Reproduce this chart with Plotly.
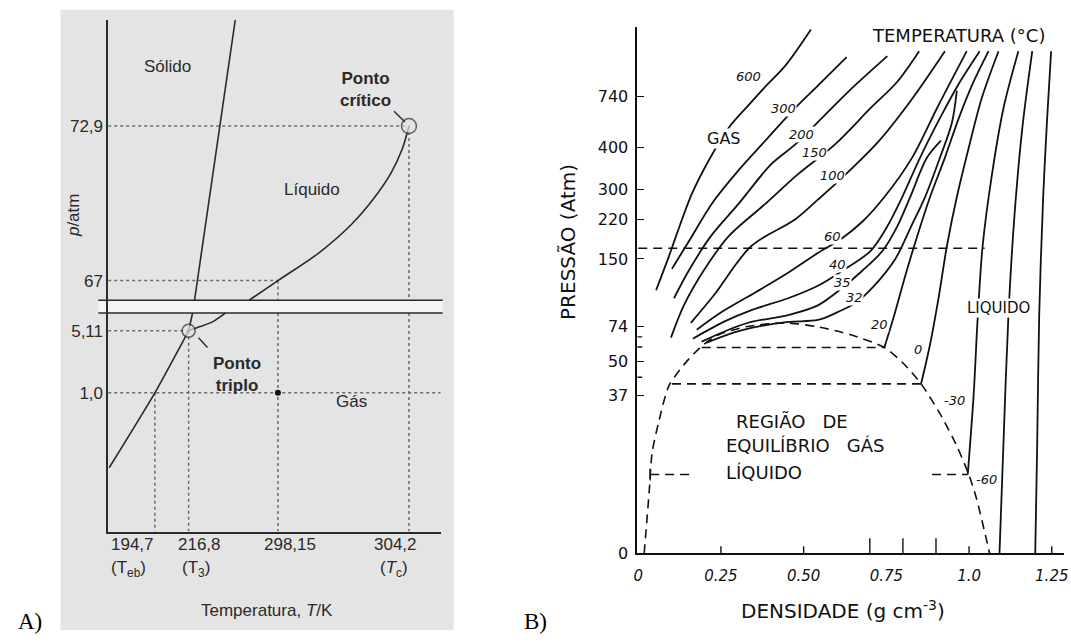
import numpy as np
import plotly.graph_objects as go

W, H = 1071, 644
INK_A = "#2a2a2a"
DOT_A = "#6a6a6a"
INK_B = "#111111"
PAPER_A = "#e4e4e4"
FONT_A = "Liberation Sans, Arial, sans-serif"
FONT_B = "DejaVu Sans, sans-serif"
FONT_TAG = "Liberation Serif, Times New Roman, serif"

# ---------------- Panel A: CO2 phase diagram (schematic, broken p axis) ----------------
# schematic temperature scale: K -> axis position
A_T_SCALE = [160.0, 194.7, 216.8, 298.15, 304.2, 305.7]
A_T_POS = [0, 47, 81, 171, 303, 335]
# schematic pressure scale (atm) with a break between 6.28 and 66.25 atm
A_P_SCALE = [0.0, 1.0, 5.11, 6.28, 66.25, 67.0, 72.9, 77.0]
A_P_POS = [0, 141, 204, 222, 235, 255, 412, 521]
A_BREAK_LO, A_BREAK_HI = 6.28, 66.25

A_P_TICKS = [1.0, 5.11, 67.0, 72.9]
A_P_LABELS = ["1,0", "5,11", "67", "72,9"]

T_SUBL, T_TRIPLE, T_ROOM, T_CRIT = 194.7, 216.8, 298.15, 304.2
P_ATM, P_TRIPLE, P_ROOM, P_CRIT = 1.0, 5.11, 67.0, 72.9

# coexistence lines
subl_T = [160.7, 194.7, 216.8]
subl_p = [0.46, 1.0, 5.11]
fus_lo_T = [216.8, 220.4]
fus_lo_p = [5.11, 6.28]
fus_hi_T = [222.2, 259.3]
fus_hi_p = [66.25, 76.96]
vap_lo_T = [216.8, 226.7, 238.5, 250.3]
vap_lo_p = [5.11, 5.37, 5.70, 6.28]
vap_hi_T = [271.9, 298.15, 300.03, 301.54, 302.60, 303.37, 303.88, 304.2]
vap_hi_p = [66.25, 67.0, 68.05, 69.14, 70.16, 71.10, 72.00, 72.9]


def a_x(T):
    return np.interp(T, A_T_SCALE, A_T_POS)


def a_y(p):
    return np.interp(p, A_P_SCALE, A_P_POS)


# ---------------- Panel B: CO2 isotherms, pressure vs density ----------------
B_P_SCALE = [0, 37, 50, 74, 150, 220, 300, 400, 740, 1200]
B_P_POS = [0, 160, 195, 230, 299, 339, 370, 412, 464, 535]
B_P_TICKS = [0, 37, 50, 74, 150, 220, 300, 400, 740]
B_P_MINOR = [44, 60, 67]
B_D_TICKS = [0, 0.25, 0.50, 0.75, 1.0, 1.25]
B_D_LABELS = ["0", "0.25", "0.50", "0.75", "1.0", "1.25"]
B_D_SHORT = [0.25, 0.50, 1.0, 1.25]
B_D_LONG = [0.7, 0.8, 0.9]

iso_600_d = [0.054, 0.093, 0.114, 0.162, 0.213, 0.273, 0.333, 0.387, 0.444, 0.522]
iso_600_p = [115, 155, 190, 287, 369, 531, 681, 811, 941, 1181]
iso_300_d = [0.102, 0.162, 0.222, 0.303, 0.384, 0.474, 0.543, 0.630]
iso_300_p = [139, 190, 261, 345, 446, 662, 811, 999]
iso_200_d = [0.108, 0.153, 0.219, 0.303, 0.402, 0.474, 0.564, 0.654, 0.753]
iso_200_p = [106, 137, 190, 261, 360, 420, 616, 811, 1006]
iso_150_d = [0.099, 0.138, 0.198, 0.273, 0.384, 0.483, 0.594, 0.702, 0.783, 0.849]
iso_150_p = [66.5, 98, 137, 190, 261, 336, 420, 662, 837, 1038]
iso_100_d = [0.159, 0.228, 0.342, 0.474, 0.543, 0.624, 0.723, 0.822, 0.927]
iso_100_p = [78.4, 109, 173, 220, 272, 333, 433, 707, 1038]
iso_60_d = [0.177, 0.252, 0.354, 0.453, 0.543, 0.612, 0.678, 0.744, 0.828, 0.903, 0.993]
iso_60_p = [72, 90.5, 112.5, 134.5, 160.5, 185, 216.5, 279, 376, 662, 1038]
iso_40_d = [0.165, 0.258, 0.342, 0.453, 0.543, 0.618, 0.702, 0.753, 0.798, 0.852, 0.912, 0.969, 1.032]
iso_40_p = [65.7, 79.5, 92.7, 106, 120, 137, 164, 208, 279, 376, 596, 824, 1038]
iso_35_d = [0.192, 0.273, 0.342, 0.453, 0.543, 0.618, 0.678, 0.738, 0.783, 0.822, 0.873, 0.915]
iso_35_p = [63.7, 72, 79.5, 87.2, 98, 118, 137, 164, 208, 279, 376, 446]
iso_32_d = [0.207, 0.288, 0.342, 0.453, 0.543, 0.603, 0.654, 0.708, 0.777, 0.825, 0.867, 0.912, 0.948, 0.963]
iso_32_p = [63, 69.9, 73.3, 79.5, 81.7, 90.5, 100, 118, 150, 208, 279, 376, 564, 779]
iso_20_d = [0.744, 0.774, 0.807, 0.843, 0.882, 0.927, 0.969, 1.011, 1.059]
iso_20_p = [59.6, 87.2, 131, 190, 279, 376, 596, 824, 1038]
iso_0_d = [0.855, 0.882, 0.909, 0.933, 0.963, 0.999, 1.038, 1.089]
iso_0_p = [41.5, 61.7, 109, 173, 279, 400, 727, 1038]
iso_m30_d = [0.996, 1.014, 1.026, 1.041, 1.068, 1.104, 1.149]
iso_m30_p = [18.5, 37.7, 84, 173, 329, 662, 1038]
iso_m60_d = [1.092, 1.104, 1.119, 1.137, 1.161, 1.191]
iso_m60_p = [0, 25.9, 87.2, 228, 531, 1038]
iso_m90_d = [1.200, 1.206, 1.212, 1.224, 1.236, 1.248]
iso_m90_p = [0, 25.9, 87.2, 279, 596, 1038]

# saturation dome and tie lines
dome_d = [0.018, 0.033, 0.042, 0.063, 0.093, 0.144, 0.198, 0.243, 0.324, 0.444,
          0.543, 0.642, 0.744, 0.804, 0.855, 0.912, 0.963, 0.999, 1.023, 1.062]
dome_p = [0, 14.3, 23.6, 31.2, 40.8, 49.6, 61.7, 68.5, 74, 78.4,
          74, 68.5, 59.6, 48.9, 41.5, 32.8, 25.2, 18.5, 12.7, 0]
tie_20_d, tie_20_p = [0.192, 0.744], 59.6
tie_0_d, tie_0_p = [0.102, 0.855], 41.5
tie_m30_gas_d = [0.036, 0.159]
tie_m30_liq_d = [0.888, 0.996]
tie_m30_p = 18.5
ref_line_d, ref_line_p = [0.0, 1.047], 169


def b_y(p):
    return np.interp(p, B_P_SCALE, B_P_POS)


fig = go.Figure()


def line_a(T, p, color=INK_A, width=1.6, dash=None, smooth=0.6):
    fig.add_trace(go.Scatter(
        x=a_x(np.asarray(T, float)), y=a_y(np.asarray(p, float)), mode="lines",
        line=dict(color=color, width=width, dash=dash, shape="spline", smoothing=smooth),
        xaxis="x", yaxis="y", hoverinfo="skip", showlegend=False))


# dotted guide lines (split at the axis break)
line_a([A_T_SCALE[0], T_CRIT], [P_CRIT, P_CRIT], DOT_A, 1.5, "dot")
line_a([A_T_SCALE[0], T_ROOM], [P_ROOM, P_ROOM], DOT_A, 1.5, "dot")
line_a([A_T_SCALE[0], T_TRIPLE], [P_TRIPLE, P_TRIPLE], DOT_A, 1.5, "dot")
line_a([A_T_SCALE[0], A_T_SCALE[-1]], [P_ATM, P_ATM], DOT_A, 1.5, "dot")
line_a([T_SUBL, T_SUBL], [P_ATM, 0], DOT_A, 1.5, "dot")
line_a([T_TRIPLE, T_TRIPLE], [P_TRIPLE, 0], DOT_A, 1.5, "dot")
for t_v, p_top in [(T_ROOM, P_ROOM), (T_CRIT, P_CRIT)]:
    line_a([t_v, t_v], [p_top, A_BREAK_HI], DOT_A, 1.5, "dot")
    line_a([t_v, t_v], [A_BREAK_LO, 0], DOT_A, 1.5, "dot")

# phase boundaries
line_a(subl_T, subl_p)
line_a(fus_lo_T, fus_lo_p)
line_a(fus_hi_T, fus_hi_p)
line_a(vap_lo_T, vap_lo_p)
line_a(vap_hi_T, vap_hi_p, smooth=1.0)

fig.add_trace(go.Scatter(
    x=a_x([T_TRIPLE, T_CRIT]), y=a_y([P_TRIPLE, P_CRIT]), mode="markers",
    marker=dict(size=[13, 15], color=PAPER_A, line=dict(color=INK_A, width=1.5)),
    xaxis="x", yaxis="y", hoverinfo="skip", showlegend=False))
fig.add_trace(go.Scatter(
    x=a_x([T_ROOM]), y=a_y([P_ATM]), mode="markers",
    marker=dict(size=6, color="#111111"),
    xaxis="x", yaxis="y", hoverinfo="skip", showlegend=False))


def line_b(d, p, dash=None, width=1.8, smooth=0.9):
    fig.add_trace(go.Scatter(
        x=d, y=b_y(np.asarray(p, float)), mode="lines",
        line=dict(color=INK_B, width=width, dash=dash, shape="spline", smoothing=smooth),
        xaxis="x2", yaxis="y2", hoverinfo="skip", showlegend=False))


for d_arr, p_arr in [(iso_600_d, iso_600_p), (iso_300_d, iso_300_p), (iso_200_d, iso_200_p),
                     (iso_150_d, iso_150_p), (iso_100_d, iso_100_p), (iso_60_d, iso_60_p),
                     (iso_40_d, iso_40_p), (iso_35_d, iso_35_p), (iso_32_d, iso_32_p),
                     (iso_20_d, iso_20_p), (iso_0_d, iso_0_p), (iso_m30_d, iso_m30_p),
                     (iso_m60_d, iso_m60_p), (iso_m90_d, iso_m90_p)]:
    line_b(d_arr, p_arr)

DASH = "9px,6px"
line_b(dome_d, dome_p, DASH, 1.6, 0.7)
line_b(tie_20_d, [tie_20_p] * 2, DASH, 1.6)
line_b(tie_0_d, [tie_0_p] * 2, DASH, 1.6)
line_b(tie_m30_gas_d, [tie_m30_p] * 2, DASH, 1.6)
line_b(tie_m30_liq_d, [tie_m30_p] * 2, DASH, 1.6)
line_b(ref_line_d, [ref_line_p] * 2, DASH, 1.6)
line_b([tie_m30_gas_d[0]] * 2, [tie_m30_p - 1.4, tie_m30_p + 1.4], None, 1.4)

# ---------------- layout ----------------
shapes = [
    dict(type="rect", xref="paper", yref="paper", x0=57 / W, x1=453 / W,
         y0=1 - 640 / H, y1=1 - 10 / H, fillcolor=PAPER_A, line=dict(width=0), layer="below"),
    dict(type="rect", xref="paper", yref="y", x0=95 / W, x1=442 / W,
         y0=a_y(A_BREAK_LO), y1=a_y(A_BREAK_HI), fillcolor="#f4f4f4",
         line=dict(width=0), layer="below"),
]
for pb in (A_BREAK_LO, A_BREAK_HI):
    shapes.append(dict(type="line", xref="paper", yref="y", x0=95 / W, x1=442 / W,
                       y0=a_y(pb), y1=a_y(pb), line=dict(color=INK_A, width=1.6)))
# leader lines to the triple and critical points
for (x0, y0, x1, y1) in [(196, 343, 205, 353), (393, 113, 404, 124)]:
    shapes.append(dict(type="line", xref="paper", yref="paper", x0=x0 / W, x1=x1 / W,
                       y0=1 - y0 / H, y1=1 - y1 / H, line=dict(color=INK_A, width=1.4)))
# density ticks drawn upward from the axis
for dv in B_D_SHORT:
    shapes.append(dict(type="line", xref="x2", yref="y2", x0=dv, x1=dv, ysizemode="pixel",
                       yanchor=0, y0=0, y1=7, line=dict(color=INK_B, width=1.4)))
for dv in B_D_LONG:
    shapes.append(dict(type="line", xref="x2", yref="y2", x0=dv, x1=dv, ysizemode="pixel",
                       yanchor=0, y0=0, y1=15, line=dict(color=INK_B, width=1.4)))
B_D_MIN = -0.003
for pv in B_P_MINOR:
    shapes.append(dict(type="line", xref="x2", yref="y2", y0=b_y(pv), y1=b_y(pv),
                       xsizemode="pixel", xanchor=B_D_MIN, x0=0, x1=5,
                       line=dict(color=INK_B, width=1.4)))


def note(text, x, y, size, family=FONT_A, color=INK_A, xanchor="center", **kw):
    return dict(text=text, x=x / W, y=1 - y / H, xref="paper", yref="paper",
                xanchor=xanchor, yanchor="middle", showarrow=False,
                font=dict(family=family, size=size, color=color), **kw)


NB = "\u00a0"
anns = [
    note("Sólido", 165, 68, 17),
    note("<b>Ponto<br>crítico</b>", 364, 91, 17),
    note("Líquido", 310, 192, 17),
    note("<b>Ponto<br>triplo</b>", 235, 380, 17),
    note("Gás", 350, 408, 17),
    note("<i>p</i>/atm", 70, 218, 17, textangle=-90),
    note("194,7", 129, 553, 17),
    note("(T<sub>eb</sub>)", 125, 578, 17),
    note("216,8", 197, 553, 17),
    note("(T<sub>3</sub>)", 193, 578, 17),
    note("298,15", 288, 553, 17),
    note("304,2", 394, 553, 17),
    note("(<i>T</i><sub>c</sub>)", 393, 578, 17),
    note("Temperatura, <i>T</i>/K", 265, 620, 17),
    note("A)", 26, 631, 23, FONT_TAG, "#000000"),
    note("B)", 536, 631, 23, FONT_TAG, "#000000"),
    note("TEMPERATURA (°C)", 962, 36, 18, FONT_B, INK_B),
    note("GAS", 725, 141, 16, FONT_B, INK_B, bgcolor="#ffffff", borderpad=0),
    note("LIQUIDO", 1002, 313, 15, FONT_B, INK_B, bgcolor="#ffffff", borderpad=0),
    note("REGIÃO" + NB * 3 + "DE", 735, 428, 18, FONT_B, INK_B, xanchor="left"),
    note("EQUILÍBRIO" + NB * 3 + "GÁS", 725, 453, 18, FONT_B, INK_B, xanchor="left"),
    note("LÍQUIDO", 725, 480, 18, FONT_B, INK_B, xanchor="left"),
    note("PRESSÃO (Atm)", 568, 246, 20, FONT_B, INK_B, textangle=-90),
    note("DENSIDADE (g cm<sup>-3</sup>)", 845, 620, 20, FONT_B, INK_B),
]
iso_labels = [("600", 750, 78), ("300", 785, 110), ("200", 803, 137), ("150", 817, 155),
              ("100", 835, 178), ("60", 835, 240), ("40", 840, 269), ("35", 845, 287),
              ("32", 857, 302), ("20", 882, 330), ("0", 921, 355), ("-30", 958, 407),
              ("-60", 990, 487)]
for txt, lx, ly in iso_labels:
    anns.append(note("<i>" + txt + "</i>", lx, ly, 13, FONT_B, INK_B,
                     bgcolor="#ffffff", borderpad=0))

fig.update_layout(
    width=W, height=H, margin=dict(l=0, r=0, t=0, b=0),
    paper_bgcolor="#ffffff", plot_bgcolor="rgba(0,0,0,0)",
    showlegend=False, shapes=shapes, annotations=anns,
    xaxis=dict(domain=[105 / W, 440 / W], range=[A_T_POS[0], A_T_POS[-1]], anchor="y",
               showline=True, linecolor=INK_A, linewidth=1.6, showgrid=False, zeroline=False,
               showticklabels=False, ticks=""),
    yaxis=dict(domain=[1 - 540 / H, 1 - 20 / H], range=[0, 520], anchor="x",
               showline=True, linecolor=INK_A, linewidth=1.6, showgrid=False, zeroline=False,
               tickmode="array", tickvals=list(a_y(A_P_TICKS)), ticktext=A_P_LABELS,
               ticks="", tickfont=dict(family=FONT_A, size=17, color=INK_A)),
    xaxis2=dict(domain=[638 / W, 1068 / W], range=[B_D_MIN, 1.287], anchor="y2",
                showline=True, linecolor=INK_B, linewidth=1.5, showgrid=False, zeroline=False,
                tickmode="array", tickvals=B_D_TICKS,
                ticktext=["<i>" + s + "</i>" for s in B_D_LABELS], ticks="",
                ticklabeloverflow="allow", ticklabelstandoff=8,
                tickfont=dict(family=FONT_B, size=15, color=INK_B)),
    yaxis2=dict(domain=[1 - 562 / H, 1 - 27 / H], range=[0, 535], anchor="x2",
                showline=True, linecolor=INK_B, linewidth=1.5, showgrid=False, zeroline=False,
                tickmode="array", tickvals=list(b_y(B_P_TICKS)),
                ticktext=[str(v) for v in B_P_TICKS], ticks="inside", ticklen=7,
                tickwidth=1.4, tickcolor=INK_B, ticklabelstandoff=4,
                tickfont=dict(family=FONT_B, size=16, color=INK_B)),
)

fig.write_html("out.html")
